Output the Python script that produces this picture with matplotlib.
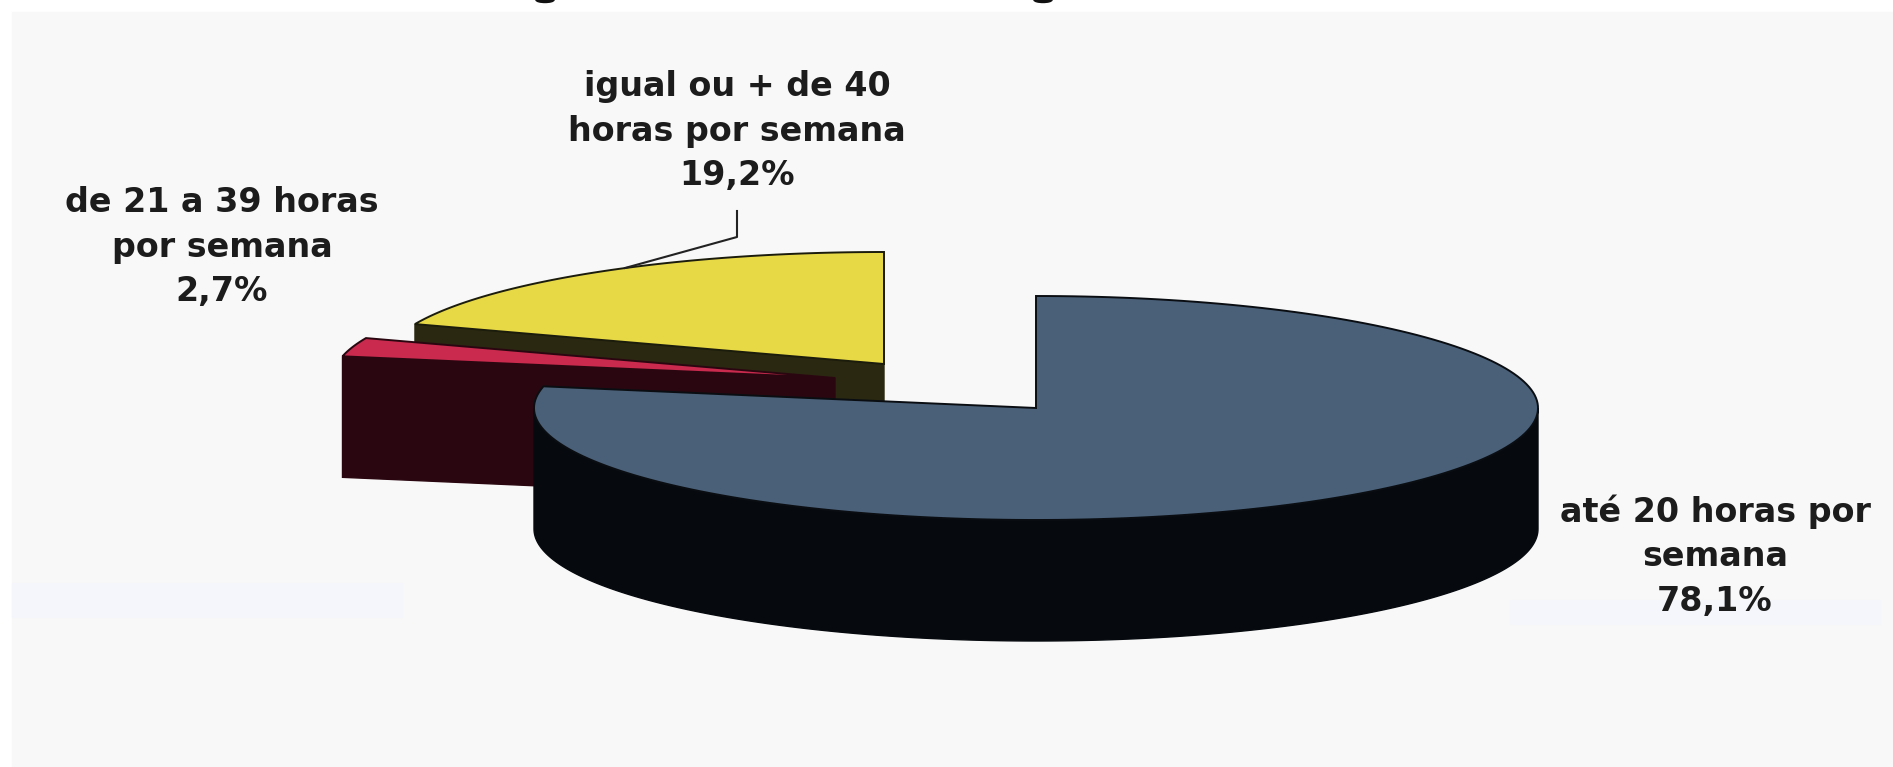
#grafico de pizza 3D - horas por semana
import numpy as np
import matplotlib.pyplot as plt
from matplotlib.patches import Rectangle, Ellipse

categorias = ['até 20 horas por\nsemana', 'de 21 a 39 horas\npor semana', 'igual ou + de 40\nhoras por semana']
valores = [78.1, 2.7, 19.2]
textos = ['78,1%', '2,7%', '19,2%']

#tudo em pixels da imagem
a, b, prof = 502, 112, 121
centros = [(1036, 408), (835, 378), (884, 364)]
topo = ['#4a6078', '#c92a4e', '#e7d845']
lado = ['#060a0e', '#2a0710', '#2a2810']
borda = ['#0a0e12', '#2a0710', '#1c1c0c']
pos_texto = [(1715, 556), (222, 247), (737, 131)]

fig = plt.figure(figsize=(18.93, 7.67), dpi=100, facecolor='white')
ax = fig.add_axes([0, 0, 1, 1])
ax.set_xlim(0, 1893)
ax.set_ylim(767, 0)
ax.axis('off')
ax.add_patch(Rectangle((12, 12), 1881, 755, color='#f8f8f8', zorder=0))
#manchas azuladas do scan
ax.add_patch(Rectangle((12, 583), 390, 34, color='#f5f6fb', zorder=0.5))
ax.add_patch(Rectangle((1510, 600), 370, 24, color='#f5f6fb', zorder=0.5))
#restos do titulo cortado
ax.add_patch(Ellipse((545, 0), 18, 5, color='#111111', zorder=1))
ax.add_patch(Ellipse((1043, 0), 18, 5, color='#111111', zorder=1))

def arco(c, t1, t2):
    t = np.radians(np.linspace(t1, t2, 200))
    return c[0] + a * np.cos(t), c[1] - b * np.sin(t)

#angulos: azul vai no sentido horario a partir de 90, amarelo e vermelho no anti-horario
fim_azul = 90 - valores[0] * 3.6
fim_amarelo = 90 + valores[2] * 3.6
fim_vermelho = fim_amarelo + valores[1] * 3.6
angulos = [(90, fim_azul), (fim_amarelo, fim_vermelho), (90, fim_amarelo)]

def desenha_topo(i, z):
    x, y = arco(centros[i], *angulos[i])
    ax.fill(np.r_[centros[i][0], x], np.r_[centros[i][1], y], fc=topo[i], ec=borda[i], lw=1.4, zorder=z)

#corte frontal de uma fatia
def corte(i, t, z):
    x, y = arco(centros[i], t, t)
    cx, cy = centros[i]
    ax.fill([cx, x[0], x[0], cx], [cy, y[0], y[0] + prof, cy + prof], fc=lado[i], ec=lado[i], lw=1, zorder=z)

#amarelo
corte(2, fim_amarelo, 2)
desenha_topo(2, 3)
#vermelho
corte(1, fim_vermelho, 4)
desenha_topo(1, 5)
#azul
x, y = arco(centros[0], 180, 360)
ax.fill(np.r_[x, x[::-1]], np.r_[y, y[::-1] + prof], fc=lado[0], ec=lado[0], lw=1, zorder=6)
desenha_topo(0, 7)

#linha do rotulo amarelo
ax.plot([737, 737, 625], [211, 237, 268], color='#222222', lw=1.5, zorder=8)

for i in range(3):
    ax.text(pos_texto[i][0], pos_texto[i][1], categorias[i] + '\n' + textos[i], ha='center', va='center',
            fontsize=24, fontweight='bold', family='DejaVu Sans', color='#1c1c1c', linespacing=1.45, zorder=9)

fig.savefig('out.png', dpi=100)
